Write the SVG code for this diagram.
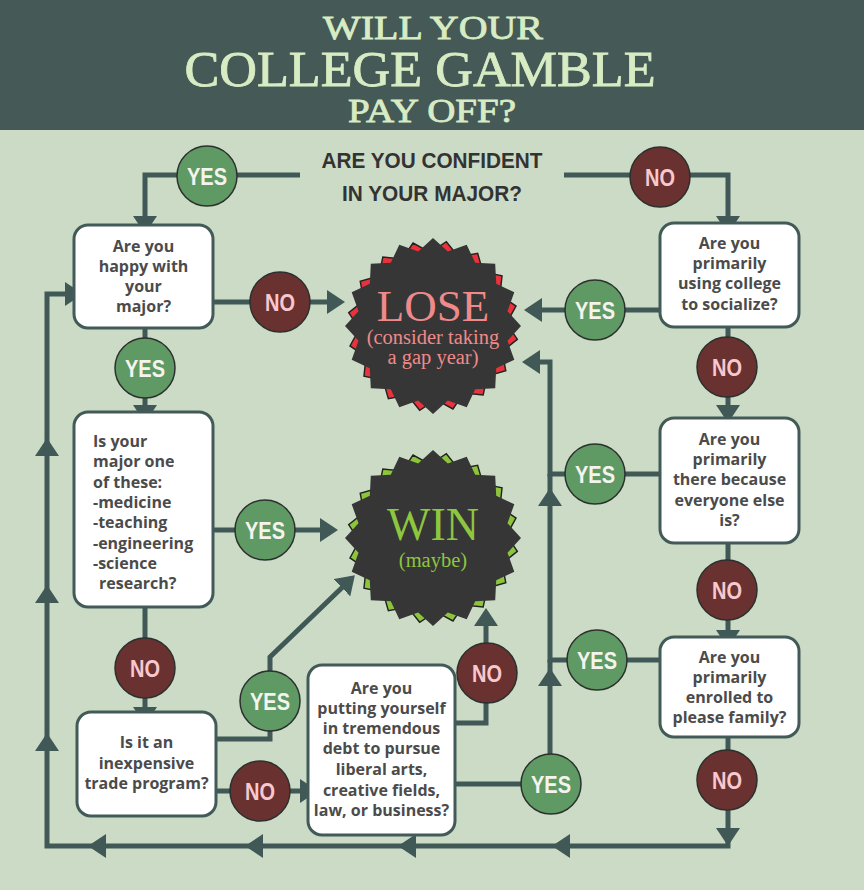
<svg xmlns="http://www.w3.org/2000/svg" xmlns:xlink="http://www.w3.org/1999/xlink" width="864" height="890" viewBox="0 0 864 890">
<defs>
<style>
.bg{fill:#ccdbc6}
.hdr{fill:#455957}
.title{font-family:"Liberation Serif",serif;font-weight:normal;fill:#d8ecc4;stroke:#d8ecc4;stroke-width:0.8;text-anchor:middle}
.q{font-family:"Liberation Sans",Arial,sans-serif;font-weight:bold;fill:#333333;text-anchor:middle;font-size:22px}
.box{fill:#ffffff;stroke:#435b58;stroke-width:3}
.bt{font-family:"Open Sans",sans-serif;font-weight:bold;font-size:16px;fill:#4b4b4b;text-anchor:middle}
.btl{font-family:"Open Sans",sans-serif;font-weight:bold;font-size:16px;fill:#4b4b4b}
.con{fill:none;stroke:#405956;stroke-width:5}
.yes{fill:#5f9a64;stroke:#2c302e;stroke-width:1.5}
.no{fill:#6a3131;stroke:#2c302e;stroke-width:1.5}
.yt{font-family:"Liberation Sans",Arial,sans-serif;font-weight:bold;font-size:24px;fill:#f4f4ee;text-anchor:middle}
.nt{font-family:"Liberation Sans",Arial,sans-serif;font-weight:bold;font-size:24px;fill:#f8c8cf;text-anchor:middle}
.res{font-family:"Liberation Serif",serif;text-anchor:middle}
</style>
<marker id="arr" viewBox="0 0 18 24" refX="14" refY="12" markerWidth="18" markerHeight="24" markerUnits="userSpaceOnUse" orient="auto">
<path d="M0,0 L18,12 L0,24 Z" fill="#405956"/>
</marker>
<polygon id="star" points="88,0 74.5,14.8 81.3,33.7 63.2,42.2 62.2,62.2 42.2,63.2 33.7,81.3 14.8,74.5 0,88 -14.8,74.5 -33.7,81.3 -42.2,63.2 -62.2,62.2 -63.2,42.2 -81.3,33.7 -74.5,14.8 -88,0 -74.5,-14.8 -81.3,-33.7 -63.2,-42.2 -62.2,-62.2 -42.2,-63.2 -33.7,-81.3 -14.8,-74.5 0,-88 14.8,-74.5 33.7,-81.3 42.2,-63.2 62.2,-62.2 63.2,-42.2 81.3,-33.7 74.5,-14.8"/>
</defs>

<rect class="bg" x="0" y="0" width="864" height="890"/>
<rect class="hdr" x="0" y="0" width="864" height="130"/>

<g id="title">
<text class="title" x="433" y="39" font-size="33" textLength="220" lengthAdjust="spacingAndGlyphs">WILL YOUR</text>
<text class="title" x="420" y="86" font-size="50" textLength="471" lengthAdjust="spacingAndGlyphs">COLLEGE GAMBLE</text>
<text class="title" x="432" y="122" font-size="33" textLength="168" lengthAdjust="spacingAndGlyphs">PAY OFF?</text>
</g>

<g id="connectors">
<path class="con" d="M300,175 H145 V230" marker-end="url(#arr)"/>
<path class="con" d="M564,175 H728 V230" marker-end="url(#arr)"/>
<path class="con" d="M213,302 H341" marker-end="url(#arr)"/>
<path class="con" d="M145,328 V419" marker-end="url(#arr)"/>
<path class="con" d="M213,530 H334" marker-end="url(#arr)"/>
<path class="con" d="M145,607 V721" marker-end="url(#arr)"/>
<path class="con" d="M216,739 H270 V657 L352,578" marker-end="url(#arr)"/>
<path class="con" d="M216,791 H314" marker-end="url(#arr)"/>
<path class="con" d="M455,723 H486 V612" marker-end="url(#arr)"/>
<path class="con" d="M455,784 H550 V660"/>
<path class="con" d="M550,684 V672" marker-end="url(#arr)"/>
<path class="con" d="M660,660 H550 V474"/>
<path class="con" d="M550,504 V492" marker-end="url(#arr)"/>
<path class="con" d="M660,474 H550 V362 H526" marker-end="url(#arr)"/>
<path class="con" d="M660,310 H528" marker-end="url(#arr)"/>
<path class="con" d="M728,327 V419" marker-end="url(#arr)"/>
<path class="con" d="M728,543 V644" marker-end="url(#arr)"/>
<path class="con" d="M728,737 V846 H47 V294 H79" marker-end="url(#arr)"/>
<path class="con" d="M728,830 V842" marker-end="url(#arr)"/>
<path class="con" d="M568,846 H556" marker-end="url(#arr)"/>
<path class="con" d="M414,846 H402" marker-end="url(#arr)"/>
<path class="con" d="M261,846 H249" marker-end="url(#arr)"/>
<path class="con" d="M104,846 H92" marker-end="url(#arr)"/>
<path class="con" d="M47,749 V737" marker-end="url(#arr)"/>
<path class="con" d="M47,601 V589" marker-end="url(#arr)"/>
<path class="con" d="M47,454 V442" marker-end="url(#arr)"/>
</g>

<g id="q-confident">
<text class="q" x="432" y="168" textLength="221" lengthAdjust="spacingAndGlyphs">ARE YOU CONFIDENT</text>
<text class="q" x="432" y="201" textLength="180" lengthAdjust="spacingAndGlyphs">IN YOUR MAJOR?</text>
</g>

<g id="lose">
<use xlink:href="#star" href="#star" transform="translate(433,326) rotate(9) scale(0.97)" fill="#e8323c" stroke="#222" stroke-width="1.5"/>
<use xlink:href="#star" href="#star" transform="translate(433,326)" fill="#363636"/>
<text class="res" x="433" y="321" font-size="45" fill="#f08a8a">LOSE</text>
<text class="res" x="433" y="344" font-size="20.5" fill="#f08a8a">(consider taking</text>
<text class="res" x="433" y="364" font-size="20.5" fill="#f08a8a">a gap year)</text>
</g>

<g id="win">
<use xlink:href="#star" href="#star" transform="translate(433,538) rotate(9) scale(0.97)" fill="#8cc43c" stroke="#222" stroke-width="1.5"/>
<use xlink:href="#star" href="#star" transform="translate(433,538)" fill="#363636"/>
<text class="res" x="433" y="540" font-size="46" fill="#8dc63f">WIN</text>
<text class="res" x="433" y="567" font-size="20.5" fill="#8dc63f">(maybe)</text>
</g>

<g id="box-happy">
<rect class="box" x="74" y="225" width="139" height="103" rx="14"/>
<text class="bt" x="143.5" y="252">Are you</text>
<text class="bt" x="143.5" y="272">happy with</text>
<text class="bt" x="143.5" y="292">your</text>
<text class="bt" x="143.5" y="312">major?</text>
</g>

<g id="box-major">
<rect class="box" x="74" y="412" width="139" height="195" rx="14"/>
<text class="btl" x="93" y="447">Is your</text>
<text class="btl" x="93" y="467">major one</text>
<text class="btl" x="93" y="488">of these:</text>
<text class="btl" x="93" y="508">-medicine</text>
<text class="btl" x="93" y="528">-teaching</text>
<text class="btl" x="93" y="549">-engineering</text>
<text class="btl" x="93" y="569">-science</text>
<text class="btl" x="99" y="589">research?</text>
</g>

<g id="box-trade">
<rect class="box" x="77" y="712" width="139" height="104" rx="14"/>
<text class="bt" x="146.5" y="748">Is it an</text>
<text class="bt" x="146.5" y="769">inexpensive</text>
<text class="bt" x="146.5" y="789">trade program?</text>
</g>

<g id="box-debt">
<rect class="box" x="308" y="665" width="147" height="170" rx="14"/>
<text class="bt" x="381.5" y="694">Are you</text>
<text class="bt" x="381.5" y="714">putting yourself</text>
<text class="bt" x="381.5" y="734">in tremendous</text>
<text class="bt" x="381.5" y="754">debt to pursue</text>
<text class="bt" x="381.5" y="775">liberal arts,</text>
<text class="bt" x="381.5" y="796">creative fields,</text>
<text class="bt" x="381.5" y="816">law, or business?</text>
</g>

<g id="box-socialize">
<rect class="box" x="660" y="223" width="139" height="104" rx="14"/>
<text class="bt" x="729.5" y="249">Are you</text>
<text class="bt" x="729.5" y="269">primarily</text>
<text class="bt" x="729.5" y="289">using college</text>
<text class="bt" x="729.5" y="310">to socialize?</text>
</g>

<g id="box-everyone">
<rect class="box" x="660" y="418" width="139" height="125" rx="14"/>
<text class="bt" x="729.5" y="445">Are you</text>
<text class="bt" x="729.5" y="465">primarily</text>
<text class="bt" x="729.5" y="485">there because</text>
<text class="bt" x="729.5" y="506">everyone else</text>
<text class="bt" x="729.5" y="526">is?</text>
</g>

<g id="box-family">
<rect class="box" x="660" y="637" width="139" height="100" rx="14"/>
<text class="bt" x="729.5" y="663">Are you</text>
<text class="bt" x="729.5" y="683">primarily</text>
<text class="bt" x="729.5" y="703">enrolled to</text>
<text class="bt" x="729.5" y="723">please family?</text>
</g>

<g id="yes-confident"><circle class="yes" cx="207" cy="176" r="30"/><text class="yt" x="207" y="185" textLength="40" lengthAdjust="spacingAndGlyphs">YES</text></g>
<g id="no-confident"><circle class="no" cx="660" cy="177" r="30"/><text class="nt" x="660" y="186" textLength="30" lengthAdjust="spacingAndGlyphs">NO</text></g>
<g id="no-happy"><circle class="no" cx="280" cy="302" r="30"/><text class="nt" x="280" y="311" textLength="30" lengthAdjust="spacingAndGlyphs">NO</text></g>
<g id="yes-happy"><circle class="yes" cx="145" cy="368" r="30"/><text class="yt" x="145" y="377" textLength="40" lengthAdjust="spacingAndGlyphs">YES</text></g>
<g id="yes-major"><circle class="yes" cx="265" cy="530" r="30"/><text class="yt" x="265" y="539" textLength="40" lengthAdjust="spacingAndGlyphs">YES</text></g>
<g id="no-major"><circle class="no" cx="145" cy="668" r="30"/><text class="nt" x="145" y="677" textLength="30" lengthAdjust="spacingAndGlyphs">NO</text></g>
<g id="yes-trade"><circle class="yes" cx="270" cy="701" r="30"/><text class="yt" x="270" y="710" textLength="40" lengthAdjust="spacingAndGlyphs">YES</text></g>
<g id="no-trade"><circle class="no" cx="260" cy="791" r="30"/><text class="nt" x="260" y="800" textLength="30" lengthAdjust="spacingAndGlyphs">NO</text></g>
<g id="no-debt"><circle class="no" cx="487" cy="673" r="30"/><text class="nt" x="487" y="682" textLength="30" lengthAdjust="spacingAndGlyphs">NO</text></g>
<g id="yes-debt"><circle class="yes" cx="551" cy="784" r="30"/><text class="yt" x="551" y="793" textLength="40" lengthAdjust="spacingAndGlyphs">YES</text></g>
<g id="yes-socialize"><circle class="yes" cx="595" cy="310" r="30"/><text class="yt" x="595" y="319" textLength="40" lengthAdjust="spacingAndGlyphs">YES</text></g>
<g id="no-socialize"><circle class="no" cx="727" cy="367" r="30"/><text class="nt" x="727" y="376" textLength="30" lengthAdjust="spacingAndGlyphs">NO</text></g>
<g id="yes-everyone"><circle class="yes" cx="595" cy="474" r="30"/><text class="yt" x="595" y="483" textLength="40" lengthAdjust="spacingAndGlyphs">YES</text></g>
<g id="no-everyone"><circle class="no" cx="727" cy="590" r="30"/><text class="nt" x="727" y="599" textLength="30" lengthAdjust="spacingAndGlyphs">NO</text></g>
<g id="yes-family"><circle class="yes" cx="597" cy="660" r="30"/><text class="yt" x="597" y="669" textLength="40" lengthAdjust="spacingAndGlyphs">YES</text></g>
<g id="no-family"><circle class="no" cx="727" cy="780" r="30"/><text class="nt" x="727" y="789" textLength="30" lengthAdjust="spacingAndGlyphs">NO</text></g>
</svg>
